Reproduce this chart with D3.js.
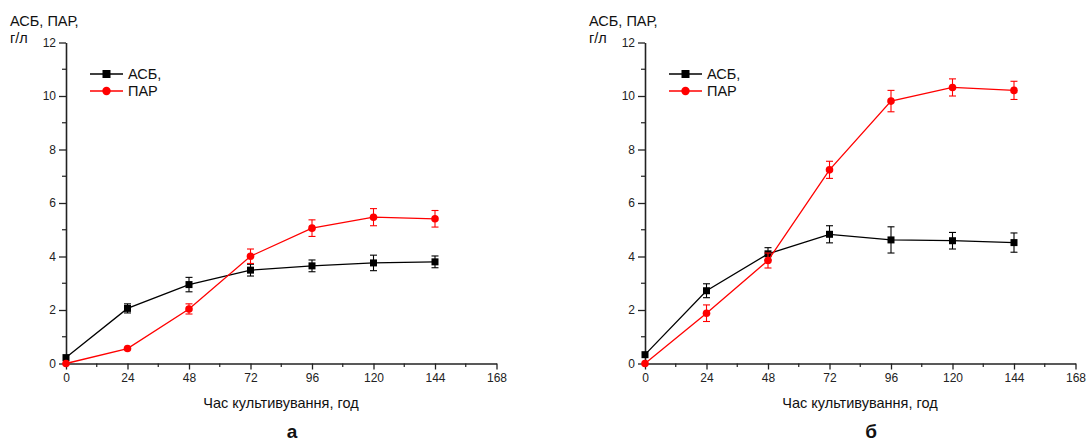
<!DOCTYPE html>
<html>
<head>
<meta charset="utf-8">
<script src="https://cdn.jsdelivr.net/npm/d3@7"></script>
<style>
  body { margin: 0; background: #fff; }
  text { font-family: "Liberation Sans", Arial, sans-serif; }
</style>
</head>
<body>
<svg id="main-svg"></svg>
<script>
// DATA
const HOURS = [0, 24, 48, 72, 96, 120, 144]
const X_TICKS = [0, 24, 48, 72, 96, 120, 144, 168]
const Y_TICKS = [0, 2, 4, 6, 8, 10, 12]
const SERIES_NAMES = ["АСБ,", "ПАР"]
const PANEL_LABELS = ["а", "б"]

// panel а
const ASB_A = [0.22, 2.06, 2.95, 3.49, 3.65, 3.76, 3.80]
const ASB_A_ERR = [0, 0.17, 0.27, 0.22, 0.22, 0.29, 0.22]
const PAR_A = [0.0, 0.56, 2.04, 4.01, 5.06, 5.47, 5.41]
const PAR_A_ERR = [0, 0.04, 0.19, 0.27, 0.31, 0.32, 0.31]

// panel б
const ASB_B = [0.33, 2.72, 4.10, 4.83, 4.62, 4.59, 4.52]
const ASB_B_ERR = [0, 0.26, 0.23, 0.32, 0.49, 0.31, 0.36]
const PAR_B = [0.0, 1.88, 3.85, 7.24, 9.81, 10.32, 10.21]
const PAR_B_ERR = [0, 0.31, 0.28, 0.32, 0.40, 0.32, 0.34]

// LAYOUT
const CANVAS_WIDTH = 1089
const CANVAS_HEIGHT = 441
const PLOT_WIDTH = 430.5
const PLOT_HEIGHT = 321
const PLOT_TOP = 42.5
const PANEL_X = [66, 645]
const BLACK = "#000"
const RED = "#ff0000"

const svg = d3.select("#main-svg")
  .attr("width", CANVAS_WIDTH)
  .attr("height", CANVAS_HEIGHT)

function drawPanel(x0, label, asb, asbErr, par, parErr) {
  const g = svg.append("g").attr("transform", `translate(${x0} ${PLOT_TOP})`)
  const x = d3.scaleLinear().domain([0, 168]).range([0, PLOT_WIDTH])
  const y = d3.scaleLinear().domain([0, 12]).range([PLOT_HEIGHT, 0])

  // minor ticks
  const xMinor = d3.range(12, 168, 24)
  const yMinor = d3.range(1, 12, 2)
  g.selectAll(".xminor").data(xMinor).join("line")
    .attr("x1", d => x(d)).attr("x2", d => x(d))
    .attr("y1", PLOT_HEIGHT).attr("y2", PLOT_HEIGHT + 3.5)
    .attr("stroke", "#222").attr("stroke-width", 1.2)
  g.selectAll(".yminor").data(yMinor).join("line")
    .attr("x1", -4).attr("x2", 0)
    .attr("y1", d => y(d)).attr("y2", d => y(d))
    .attr("stroke", "#222").attr("stroke-width", 1.2)

  const xAxis = g.append("g").attr("transform", `translate(0 ${PLOT_HEIGHT})`)
    .call(d3.axisBottom(x).tickValues(X_TICKS).tickSize(6).tickPadding(4).tickSizeOuter(0))
  const yAxis = g.append("g")
    .call(d3.axisLeft(y).tickValues(Y_TICKS).tickSize(7).tickPadding(3).tickSizeOuter(0))
  for (const a of [xAxis, yAxis]) {
    a.select(".domain").attr("stroke", "#222").attr("stroke-width", 1.6)
    a.selectAll(".tick line").attr("stroke", "#222").attr("stroke-width", 1.3)
    a.selectAll("text").attr("font-size", 12).attr("fill", "#222")
      .attr("font-family", "Liberation Sans, Arial, sans-serif")
  }

  const line = d3.line().x((d, i) => x(HOURS[i])).y(d => y(d))

  function series(vals, errs, color, shape) {
    g.append("path").datum(vals)
      .attr("d", line).attr("fill", "none")
      .attr("stroke", color).attr("stroke-width", 1.3)
    const eb = g.append("g")
    vals.forEach((v, i) => {
      if (errs[i] <= 0) return
      const cx = x(HOURS[i])
      eb.append("line").attr("x1", cx).attr("x2", cx)
        .attr("y1", y(v + errs[i])).attr("y2", y(v - errs[i]))
        .attr("stroke", color).attr("stroke-width", 1.1)
      for (const e of [v + errs[i], v - errs[i]]) {
        eb.append("line").attr("x1", cx - 3.5).attr("x2", cx + 3.5)
          .attr("y1", y(e)).attr("y2", y(e))
          .attr("stroke", color).attr("stroke-width", 1.1)
      }
    })
    if (shape === "square") {
      g.selectAll(null).data(vals).join("rect")
        .attr("x", (d, i) => x(HOURS[i]) - 3.5).attr("y", d => y(d) - 3.5)
        .attr("width", 7).attr("height", 7).attr("fill", color)
    } else {
      g.selectAll(null).data(vals).join("circle")
        .attr("cx", (d, i) => x(HOURS[i])).attr("cy", d => y(d))
        .attr("r", 3.8).attr("fill", color)
    }
  }
  series(asb, asbErr, BLACK, "square")
  series(par, parErr, RED, "circle")

  // legend
  const lg = svg.append("g").attr("transform", `translate(${x0 + 24} 0)`)
  const legendY = [74, 91]
  SERIES_NAMES.forEach((name, i) => {
    const color = i === 0 ? BLACK : RED
    lg.append("line").attr("x1", 0).attr("x2", 33)
      .attr("y1", legendY[i]).attr("y2", legendY[i])
      .attr("stroke", color).attr("stroke-width", 1.3)
    if (i === 0) {
      lg.append("rect").attr("x", 12.5).attr("y", legendY[i] - 4)
        .attr("width", 8).attr("height", 8).attr("fill", color)
    } else {
      lg.append("circle").attr("cx", 16.5).attr("cy", legendY[i])
        .attr("r", 4.2).attr("fill", color)
    }
    lg.append("text").attr("x", 38).attr("y", legendY[i] + 5)
      .attr("font-size", 14.5).attr("fill", "#111").text(name)
  })

  // titles
  svg.append("text").attr("x", x0 - 56).attr("y", 26)
    .attr("font-size", 14.5).attr("fill", "#111").text("АСБ, ПАР,")
  svg.append("text").attr("x", x0 - 56).attr("y", 43)
    .attr("font-size", 14.5).attr("fill", "#111").text("г/л")
  svg.append("text").attr("x", x0 + 215).attr("y", 408)
    .attr("text-anchor", "middle")
    .attr("font-size", 14.5).attr("fill", "#111").text("Час культивування, год")
  svg.append("text").attr("x", x0 + 226).attr("y", 438)
    .attr("text-anchor", "middle")
    .attr("font-family", "Liberation Serif, serif").attr("font-weight", "bold")
    .attr("font-size", 19).attr("fill", "#111").text(label)
}

drawPanel(PANEL_X[0], PANEL_LABELS[0], ASB_A, ASB_A_ERR, PAR_A, PAR_A_ERR)
drawPanel(PANEL_X[1], PANEL_LABELS[1], ASB_B, ASB_B_ERR, PAR_B, PAR_B_ERR)
</script>
</body>
</html>
